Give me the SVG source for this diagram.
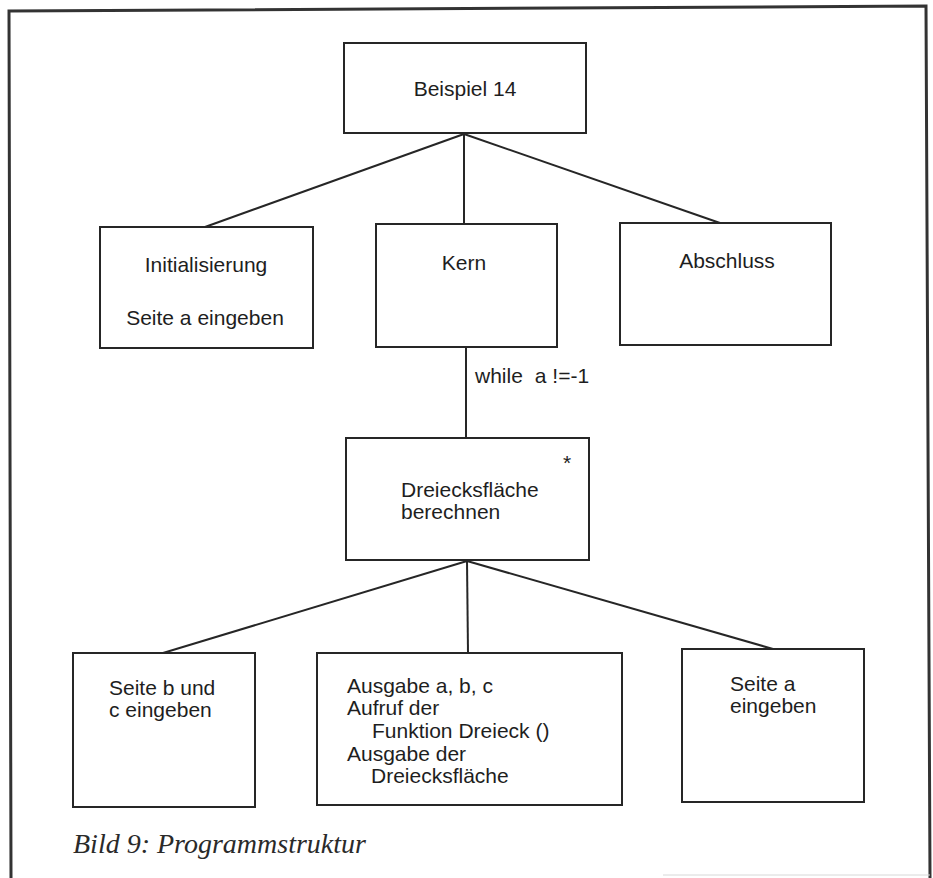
<svg xmlns="http://www.w3.org/2000/svg" width="933" height="878" viewBox="0 0 933 878">
<style>
.box{fill:#ffffff;stroke:#262626;stroke-width:2}
.ln{fill:none;stroke:#262626;stroke-width:2}
.t{font-family:"Liberation Sans",Arial,Helvetica,sans-serif;font-size:21px;fill:#1e1e1e}
.c{text-anchor:middle}
.cap{font-family:"Liberation Serif","Times New Roman",serif;font-style:italic;font-size:28px;fill:#2a2a2a}
</style>
<rect x="0" y="0" width="933" height="878" fill="#ffffff"/>
<g id="frame">
<path d="M11,878 L9,11 L926,6 L930,878" fill="none" stroke="#333333" stroke-width="3"/>
<line x1="663" y1="875" x2="930" y2="875" stroke="#d8d8d8" stroke-width="1"/>
</g>
<g id="connectors">
<line class="ln" x1="464" y1="134" x2="205" y2="227"/>
<line class="ln" x1="464" y1="134" x2="464" y2="224"/>
<line class="ln" x1="464" y1="134" x2="720" y2="223"/>
<line class="ln" x1="466" y1="347" x2="466" y2="438"/>
<line class="ln" x1="467" y1="561" x2="163" y2="653"/>
<line class="ln" x1="467" y1="561" x2="468" y2="653"/>
<line class="ln" x1="467" y1="561" x2="773" y2="649"/>
<text class="t" x="475" y="383">while<tspan dx="12">a !=-1</tspan></text>
</g>
<g id="beispiel">
<rect class="box" x="344" y="43" width="242" height="90"/>
<text class="t c" x="465" y="96">Beispiel 14</text>
</g>
<g id="initialisierung">
<rect class="box" x="100" y="227" width="213" height="121"/>
<text class="t c" x="206" y="272">Initialisierung</text>
<text class="t c" x="205" y="325">Seite a eingeben</text>
</g>
<g id="kern">
<rect class="box" x="376" y="224" width="181" height="123"/>
<text class="t c" x="464" y="270">Kern</text>
</g>
<g id="abschluss">
<rect class="box" x="620" y="223" width="211" height="122"/>
<text class="t c" x="727" y="268">Abschluss</text>
</g>
<g id="dreiecksflaeche">
<rect class="box" x="346" y="438" width="243" height="122"/>
<text class="t" x="563" y="470">*</text>
<text class="t" x="401" y="497">Dreiecksfläche</text>
<text class="t" x="401" y="519">berechnen</text>
</g>
<g id="seite-b-c">
<rect class="box" x="73" y="653" width="182" height="154"/>
<text class="t" x="109" y="695">Seite b und</text>
<text class="t" x="109" y="717">c eingeben</text>
</g>
<g id="ausgabe">
<rect class="box" x="317" y="653" width="305" height="152"/>
<text class="t" x="347" y="693">Ausgabe a, b, c</text>
<text class="t" x="347" y="715">Aufruf der</text>
<text class="t" x="372" y="738">Funktion Dreieck ()</text>
<text class="t" x="347" y="761">Ausgabe der</text>
<text class="t" x="371" y="783">Dreiecksfläche</text>
</g>
<g id="seite-a">
<rect class="box" x="682" y="649" width="182" height="153"/>
<text class="t" x="730" y="691">Seite a</text>
<text class="t" x="730" y="713">eingeben</text>
</g>
<g id="caption">
<text class="cap" x="73" y="853">Bild 9: Programmstruktur</text>
</g>
</svg>
